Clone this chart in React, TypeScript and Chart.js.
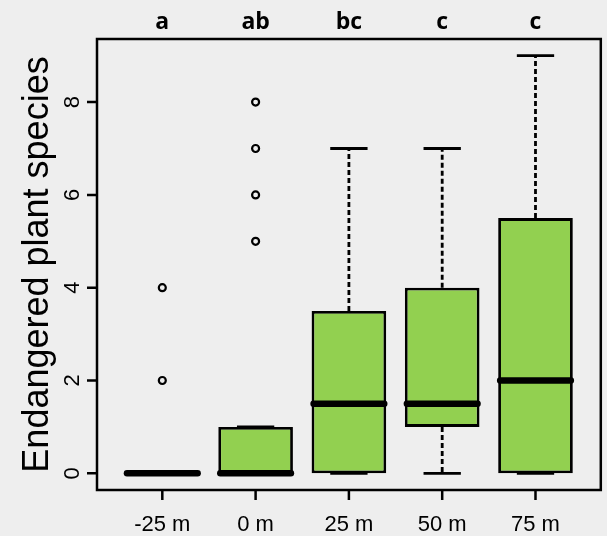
import { useEffect, useRef } from "react";
import { Chart, registerables } from "chart.js";

Chart.register(...registerables);

// ---- data ----
const categories = ["-25 m", "0 m", "25 m", "50 m", "75 m"];
const groupLetters = ["a", "ab", "bc", "c", "c"];
const lowerQuartile = [0, 0, 0, 1, 0];
const upperQuartile = [0, 1, 3.5, 4, 5.5];
const medians = [0, 0, 1.5, 1.5, 2];
const whiskerLow = [0, 0, 0, 0, 0];
const whiskerHigh = [0, 1, 7, 7, 9];
const outliers: number[][] = [[2, 4], [5, 6, 7, 8], [], [], []];
const yTicks = [0, 2, 4, 6, 8];
const yTitle = "Endangered plant species";

// ---- style ----
const BG = "#eeeeee";
const BOX_FILL = "#92d050";
const INK = "#000000";
const BOX_HALF = 0.4; // boxwex 0.8
const CAP_HALF = 0.2; // staplewex 0.5

export default function App() {
  const ref = useRef<HTMLCanvasElement>(null);

  useEffect(() => {
    document.body.style.margin = "0";
    document.body.style.background = BG;
    const canvas = ref.current!;
    const ctx = canvas.getContext("2d")!;

    const boxPlugin = {
      id: "boxPlugin",
      beforeDraw(chart: any) {
        const c = chart.ctx;
        c.save();
        c.fillStyle = BG;
        c.fillRect(0, 0, chart.width, chart.height);
        c.restore();
      },
      afterDatasetsDraw(chart: any) {
        const c = chart.ctx;
        const x = chart.scales.x;
        const y = chart.scales.y;
        c.save();
        c.strokeStyle = INK;
        categories.forEach((_, i) => {
          const cx = x.getPixelForValue(i + 1);
          const half = x.getPixelForValue(i + 1 + BOX_HALF) - cx;
          const capHalf = x.getPixelForValue(i + 1 + CAP_HALF) - cx;
          // dashed whiskers
          c.lineWidth = 2.8;
          c.lineCap = "butt";
          c.setLineDash([5, 3]);
          c.beginPath();
          c.moveTo(cx, y.getPixelForValue(upperQuartile[i]));
          c.lineTo(cx, y.getPixelForValue(whiskerHigh[i]));
          c.moveTo(cx, y.getPixelForValue(lowerQuartile[i]));
          c.lineTo(cx, y.getPixelForValue(whiskerLow[i]));
          c.stroke();
          c.setLineDash([]);
          // staples
          c.beginPath();
          const yh = y.getPixelForValue(whiskerHigh[i]);
          const yl = y.getPixelForValue(whiskerLow[i]);
          c.moveTo(cx - capHalf, yh);
          c.lineTo(cx + capHalf, yh);
          c.moveTo(cx - capHalf, yl);
          c.lineTo(cx + capHalf, yl);
          c.stroke();
          // median
          c.lineWidth = 6.5;
          c.lineCap = "round";
          const ym = y.getPixelForValue(medians[i]);
          c.beginPath();
          c.moveTo(cx - half + 2, ym);
          c.lineTo(cx + half - 2, ym);
          c.stroke();
        });
        c.restore();
      },
      afterDraw(chart: any) {
        const c = chart.ctx;
        const { left, right, top, bottom } = chart.chartArea;
        const x = chart.scales.x;
        const y = chart.scales.y;
        c.save();
        c.strokeStyle = INK;
        c.fillStyle = INK;
        c.lineWidth = 2.5;
        c.lineCap = "butt";
        c.strokeRect(left, top, right - left, bottom - top);
        // x ticks and labels
        c.beginPath();
        categories.forEach((_, i) => {
          const px = x.getPixelForValue(i + 1);
          c.moveTo(px, bottom);
          c.lineTo(px, bottom + 10);
        });
        yTicks.forEach((v) => {
          const py = y.getPixelForValue(v);
          c.moveTo(left, py);
          c.lineTo(left - 10, py);
        });
        c.stroke();
        c.font = '22px "Liberation Sans", Arial, sans-serif';
        c.textAlign = "center";
        c.textBaseline = "alphabetic";
        categories.forEach((lab, i) => {
          c.fillText(lab, x.getPixelForValue(i + 1), 531);
        });
        // group letters
        c.font = 'bold 23px "Open Sans", "Liberation Sans", sans-serif';
        groupLetters.forEach((lab, i) => {
          c.fillText(lab, x.getPixelForValue(i + 1), 29);
        });
        // y tick labels (rotated)
        c.font = '22px "Liberation Sans", Arial, sans-serif';
        yTicks.forEach((v) => {
          c.save();
          c.translate(79, y.getPixelForValue(v));
          c.rotate(-Math.PI / 2);
          c.fillText(String(v), 0, 0);
          c.restore();
        });
        // y title
        c.font = '36px "Liberation Sans", Arial, sans-serif';
        c.save();
        c.translate(48, (top + bottom) / 2);
        c.rotate(-Math.PI / 2);
        c.fillText(yTitle, 0, 0);
        c.restore();
        c.restore();
      },
    };

    const boxData = categories.map((_, i) => ({
      x: i + 1,
      y: [lowerQuartile[i], upperQuartile[i]],
    }));
    const outlierData: { x: number; y: number }[] = [];
    outliers.forEach((vals, i) => vals.forEach((v) => outlierData.push({ x: i + 1, y: v })));

    const chart = new Chart(ctx, {
      type: "bar",
      data: {
        datasets: [
          {
            type: "bar",
            data: boxData as any,
            backgroundColor: BOX_FILL,
            borderColor: INK,
            borderWidth: 2.8,
            borderSkipped: false,
            categoryPercentage: 0.8,
            barPercentage: 1,
          } as any,
          {
            type: "scatter",
            data: outlierData,
            pointRadius: 3.5,
            pointBorderWidth: 2.2,
            pointBorderColor: INK,
            pointBackgroundColor: "rgba(0,0,0,0)",
            showLine: false,
          } as any,
        ],
      },
      options: {
        responsive: false,
        animation: false,
        events: [],
        layout: { padding: { left: 97, right: 3, top: 39, bottom: 46 } },
        plugins: { legend: { display: false }, tooltip: { enabled: false }, title: { display: false } },
        scales: {
          x: {
            type: "linear",
            min: 0.3,
            max: 5.7,
            offset: false,
            display: false,
            afterBuildTicks: (s: any) => {
              s.ticks = categories.map((_, i) => ({ value: i + 1 }));
            },
          },
          y: { type: "linear", min: -0.36, max: 9.36, display: false },
        },
      } as any,
      plugins: [boxPlugin],
    });
    return () => chart.destroy();
  }, []);

  return (
    <div style={{ width: 607, height: 536 }}>
      <canvas ref={ref} width={607} height={536} style={{ display: "block" }} />
    </div>
  );
}
